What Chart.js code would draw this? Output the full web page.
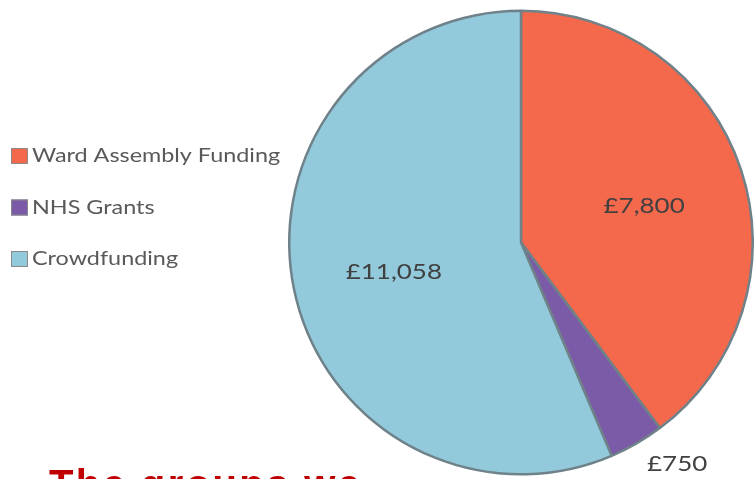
<!DOCTYPE html>
<html lang="en">
  <head>
    <meta charset="UTF-8" />
    <title>Funding sources</title>
    <script src="https://cdn.jsdelivr.net/npm/chart.js@4.4.0/dist/chart.umd.min.js"></script>
    <style>
      body { margin: 0; background: #fff; overflow: hidden; }
      #wrap { position: relative; width: 754px; height: 479px; }
      #title {
        position: absolute; left: 49px; top: 462px; margin: 0;
        font: bold 40px "Liberation Sans", Arial, sans-serif; color: #c00000;
        letter-spacing: 2.4px; white-space: nowrap;
      }
    </style>
  </head>
  <body>
    <div id="wrap">
      <canvas id="chart" width="754" height="479"></canvas>
      <p id="title">The groups we</p>
    </div>
    <script>
      const categories = ["Ward Assembly Funding", "NHS Grants", "Crowdfunding"];
      const amounts = [7800, 750, 11058];
      const valueLabels = ["£7,800", "£750", "£11,058"];
      const colors = ["#f4694c", "#7b5aa8", "#92c9db"];

      // the text in the picture is wide (Calibri-ish), so stretch it a bit
      function wideText(ctx, text, x, y, align, sx) {
        const w = ctx.measureText(text).width * sx;
        let left = x;
        if (align === "center") left = x - w / 2;
        ctx.save();
        ctx.translate(left, y);
        ctx.scale(sx, 1);
        ctx.textAlign = "left";
        ctx.fillText(text, 0, 0);
        ctx.restore();
      }

      // labels inside slices, except the small one which sits outside
      const sliceLabels = {
        id: "sliceLabels",
        afterDatasetsDraw(chart) {
          const ctx = chart.ctx;
          const meta = chart.getDatasetMeta(0);
          ctx.save();
          ctx.font = '22px Lato, "Open Sans", sans-serif';
          ctx.fillStyle = "#404040";
          ctx.textBaseline = "middle";
          meta.data.forEach((arc, i) => {
            const mid = (arc.startAngle + arc.endAngle) / 2;
            const frac = (arc.endAngle - arc.startAngle) / (2 * Math.PI);
            let r, align, dy;
            if (frac < 0.08) {
              r = arc.outerRadius + 21;
              align = "left";
              dy = 2;
            } else {
              r = arc.outerRadius * 0.56;
              align = "center";
              dy = 4;
            }
            wideText(ctx, valueLabels[i], arc.x + Math.cos(mid) * r, arc.y + Math.sin(mid) * r + dy, align, 1.18);
          });
          ctx.restore();
        },
      };

      const sideLegend = {
        id: "sideLegend",
        afterDraw(chart) {
          const ctx = chart.ctx;
          ctx.save();
          ctx.font = '19px Lato, "Open Sans", sans-serif';
          ctx.textBaseline = "middle";
          chart.data.labels.forEach((label, i) => {
            const y = 156 + i * 51.5;
            ctx.fillStyle = colors[i];
            ctx.fillRect(11, y - 8, 17, 16);
            ctx.strokeStyle = "#8a8a8a";
            ctx.lineWidth = 1;
            ctx.strokeRect(11.5, y - 7.5, 16, 15);
            ctx.fillStyle = "#595959";
            wideText(ctx, label, 32, y, "left", 1.23);
          });
          ctx.restore();
        },
      };

      new Chart(document.getElementById("chart"), {
        type: "pie",
        data: {
          labels: categories,
          datasets: [
            {
              data: amounts,
              backgroundColor: colors,
              borderColor: "#6f8189",
              borderWidth: 2.5,
            },
          ],
        },
        options: {
          responsive: false,
          animation: false,
          layout: { padding: { left: 288, top: 8, right: -2, bottom: 2 } },
          plugins: { legend: { display: false }, tooltip: { enabled: false } },
        },
        plugins: [sliceLabels, sideLegend],
      });
    </script>
  </body>
</html>
